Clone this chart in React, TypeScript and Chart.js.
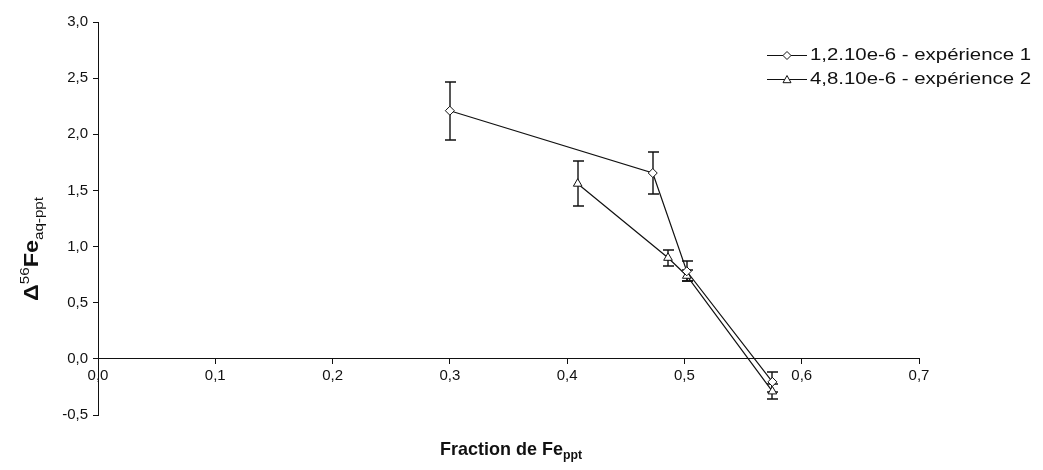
import React, { useEffect, useRef } from 'react';
import { Chart, registerables } from 'chart.js';

Chart.register(...registerables);

// ---- Data ----
const seriesNames = ['1,2.10e-6 - expérience 1', '4,8.10e-6 - expérience 2'];
const exp1X = [0.3, 0.473, 0.502, 0.575];
const exp1Y = [2.21, 1.655, 0.78, -0.205];
const exp1Err = [0.26, 0.19, 0.09, 0.09];
const exp2X = [0.409, 0.486, 0.502, 0.575];
const exp2Y = [1.56, 0.9, 0.74, -0.29];
const exp2Err = [0.2, 0.07, 0.05, 0.07];
const xTicks = [0, 0.1, 0.2, 0.3, 0.4, 0.5, 0.6, 0.7];
const yTicks = [-0.5, 0, 0.5, 1.0, 1.5, 2.0, 2.5, 3.0];
const xTitleMain = 'Fraction de Fe';
const xTitleSub = 'ppt';
const yTitleDelta = 'Δ';
const yTitleSup = '56';
const yTitleMain = 'Fe';
const yTitleSub = 'aq-ppt';

const FONT = '"Liberation Sans", Arial, sans-serif';
const INK = '#111';
const errs = [exp1Err, exp2Err];
const pointStyles = ['rectRot', 'triangle'];

const fmt = (v: number) => v.toFixed(1).replace('.', ',');

function drawMarker(ctx: CanvasRenderingContext2D, style: string, x: number, y: number, r: number) {
  ctx.beginPath();
  if (style === 'rectRot') {
    ctx.moveTo(x, y - r);
    ctx.lineTo(x + r, y);
    ctx.lineTo(x, y + r);
    ctx.lineTo(x - r, y);
  } else {
    ctx.moveTo(x, y - r);
    ctx.lineTo(x + r, y + r * 0.8);
    ctx.lineTo(x - r, y + r * 0.8);
  }
  ctx.closePath();
  ctx.fillStyle = '#fff';
  ctx.fill();
  ctx.strokeStyle = INK;
  ctx.lineWidth = 1;
  ctx.stroke();
}

type Part = { text: string; font: string; dy: number };
function measureParts(ctx: CanvasRenderingContext2D, parts: Part[]) {
  let w = 0;
  parts.forEach((p) => {
    ctx.font = p.font;
    w += ctx.measureText(p.text).width;
  });
  return w;
}
function drawParts(ctx: CanvasRenderingContext2D, parts: Part[], x: number, y: number) {
  let cx = x;
  parts.forEach((p) => {
    ctx.font = p.font;
    ctx.fillText(p.text, cx, y + p.dy);
    cx += ctx.measureText(p.text).width;
  });
}

const errorBarPlugin = {
  id: 'errorBars',
  beforeDatasetsDraw(chart: any) {
    const ctx = chart.ctx as CanvasRenderingContext2D;
    const xs = chart.scales.x;
    const ys = chart.scales.y;
    ctx.save();
    ctx.strokeStyle = INK;
    ctx.lineWidth = 1.4;
    errs.forEach((errArr, di) => {
      const data = chart.data.datasets[di].data as { x: number; y: number }[];
      data.forEach((p, i) => {
        const px = Math.round(xs.getPixelForValue(p.x));
        const top = Math.round(ys.getPixelForValue(p.y + errArr[i]));
        const bot = Math.round(ys.getPixelForValue(p.y - errArr[i]));
        ctx.beginPath();
        ctx.moveTo(px, top);
        ctx.lineTo(px, bot);
        ctx.moveTo(px - 5, top);
        ctx.lineTo(px + 6, top);
        ctx.moveTo(px - 5, bot);
        ctx.lineTo(px + 6, bot);
        ctx.stroke();
      });
    });
    ctx.restore();
  },
};

const decorPlugin = {
  id: 'decor',
  afterDraw(chart: any) {
    const ctx = chart.ctx as CanvasRenderingContext2D;
    const area = chart.chartArea;
    ctx.save();
    ctx.fillStyle = INK;
    ctx.textBaseline = 'alphabetic';

    // X title (slightly condensed, as in the reference)
    const xParts: Part[] = [
      { text: xTitleMain, font: `bold 19px ${FONT}`, dy: 0 },
      { text: xTitleSub, font: `bold 13px ${FONT}`, dy: 4 },
    ];
    const xw = measureParts(ctx, xParts);
    const xTarget = 142;
    ctx.save();
    ctx.translate(511, 455);
    ctx.scale(xTarget / xw, 1);
    drawParts(ctx, xParts, -xw / 2, 0);
    ctx.restore();

    // Y title (rotated)
    const yParts: Part[] = [
      { text: yTitleDelta, font: `bold 20px ${FONT}`, dy: 0 },
      { text: yTitleSup, font: `13px ${FONT}`, dy: -9 },
      { text: yTitleMain, font: `bold 20px ${FONT}`, dy: 0 },
      { text: yTitleSub, font: `13px ${FONT}`, dy: 5 },
    ];
    const yw = measureParts(ctx, yParts);
    ctx.save();
    ctx.translate(38, 249);
    ctx.rotate(-Math.PI / 2);
    ctx.scale(104 / yw, 1);
    drawParts(ctx, yParts, -yw / 2, 0);
    ctx.restore();

    // Legend
    const rows = [55, 79];
    rows.forEach((ry, i) => {
      ctx.strokeStyle = INK;
      ctx.lineWidth = 1;
      ctx.beginPath();
      ctx.moveTo(767, ry + 0.5);
      ctx.lineTo(807, ry + 0.5);
      ctx.stroke();
      drawMarker(ctx, pointStyles[i], 787, ry + 0.5, 4);
      ctx.fillStyle = INK;
      ctx.font = `16px ${FONT}`;
      ctx.textBaseline = 'middle';
      const tw = ctx.measureText(seriesNames[i]).width;
      ctx.save();
      ctx.translate(810, ry + 1);
      ctx.scale(221 / tw, 1);
      ctx.fillText(seriesNames[i], 0, 0);
      ctx.restore();
    });
    ctx.restore();
  },
};

export default function App() {
  const ref = useRef<HTMLCanvasElement | null>(null);

  useEffect(() => {
    if (!ref.current) return;
    const mk = (xs: number[], ys: number[]) => xs.map((x, i) => ({ x, y: ys[i] }));
    const chart = new Chart(ref.current, {
      type: 'line',
      data: {
        datasets: [
          {
            label: seriesNames[0],
            data: mk(exp1X, exp1Y),
            borderColor: INK,
            borderWidth: 1.2,
            backgroundColor: '#fff',
            pointStyle: 'rectRot',
            pointRadius: 4.5,
            pointBorderWidth: 1,
            pointBorderColor: INK,
            pointBackgroundColor: '#fff',
            tension: 0,
          },
          {
            label: seriesNames[1],
            data: mk(exp2X, exp2Y),
            borderColor: INK,
            borderWidth: 1.2,
            backgroundColor: '#fff',
            pointStyle: 'triangle',
            pointRadius: 5,
            pointBorderWidth: 1,
            pointBorderColor: INK,
            pointBackgroundColor: '#fff',
            tension: 0,
          },
        ],
      },
      options: {
        animation: false,
        responsive: false,
        events: [],
        layout: { padding: { left: 38, right: 124, top: 22, bottom: 55 } },
        plugins: { legend: { display: false }, tooltip: { enabled: false } },
        scales: {
          x: {
            type: 'linear',
            position: { y: 0 } as any,
            min: 0,
            max: 0.7,
            afterBuildTicks: (s: any) => {
              s.ticks = xTicks.map((v) => ({ value: v }));
            },
            ticks: {
              callback: (v: any) => fmt(Number(v)),
              color: INK,
              font: { family: FONT, size: 15 },
              padding: 3,
              maxRotation: 0,
              autoSkip: false,
            },
            grid: { drawOnChartArea: false, drawTicks: true, tickLength: 5, color: INK },
            border: { color: INK, width: 1 },
          },
          y: {
            type: 'linear',
            position: 'left',
            min: -0.5,
            max: 3.0,
            afterBuildTicks: (s: any) => {
              s.ticks = yTicks.map((v) => ({ value: v }));
            },
            afterFit: (s: any) => {
              s.width = 60;
            },
            ticks: {
              callback: (v: any) => fmt(Number(v)),
              color: INK,
              font: { family: FONT, size: 15 },
              padding: 5,
              autoSkip: false,
            },
            grid: { drawOnChartArea: false, drawTicks: true, tickLength: 5, color: INK },
            border: { color: INK, width: 1 },
          },
        },
      },
      plugins: [errorBarPlugin, decorPlugin],
    });
    return () => chart.destroy();
  }, []);

  return (
    <div style={{ position: 'absolute', left: 0, top: 0, width: 1043, height: 470, background: '#fff' }}>
      <canvas ref={ref} width={1043} height={470} style={{ display: 'block' }} />
    </div>
  );
}
